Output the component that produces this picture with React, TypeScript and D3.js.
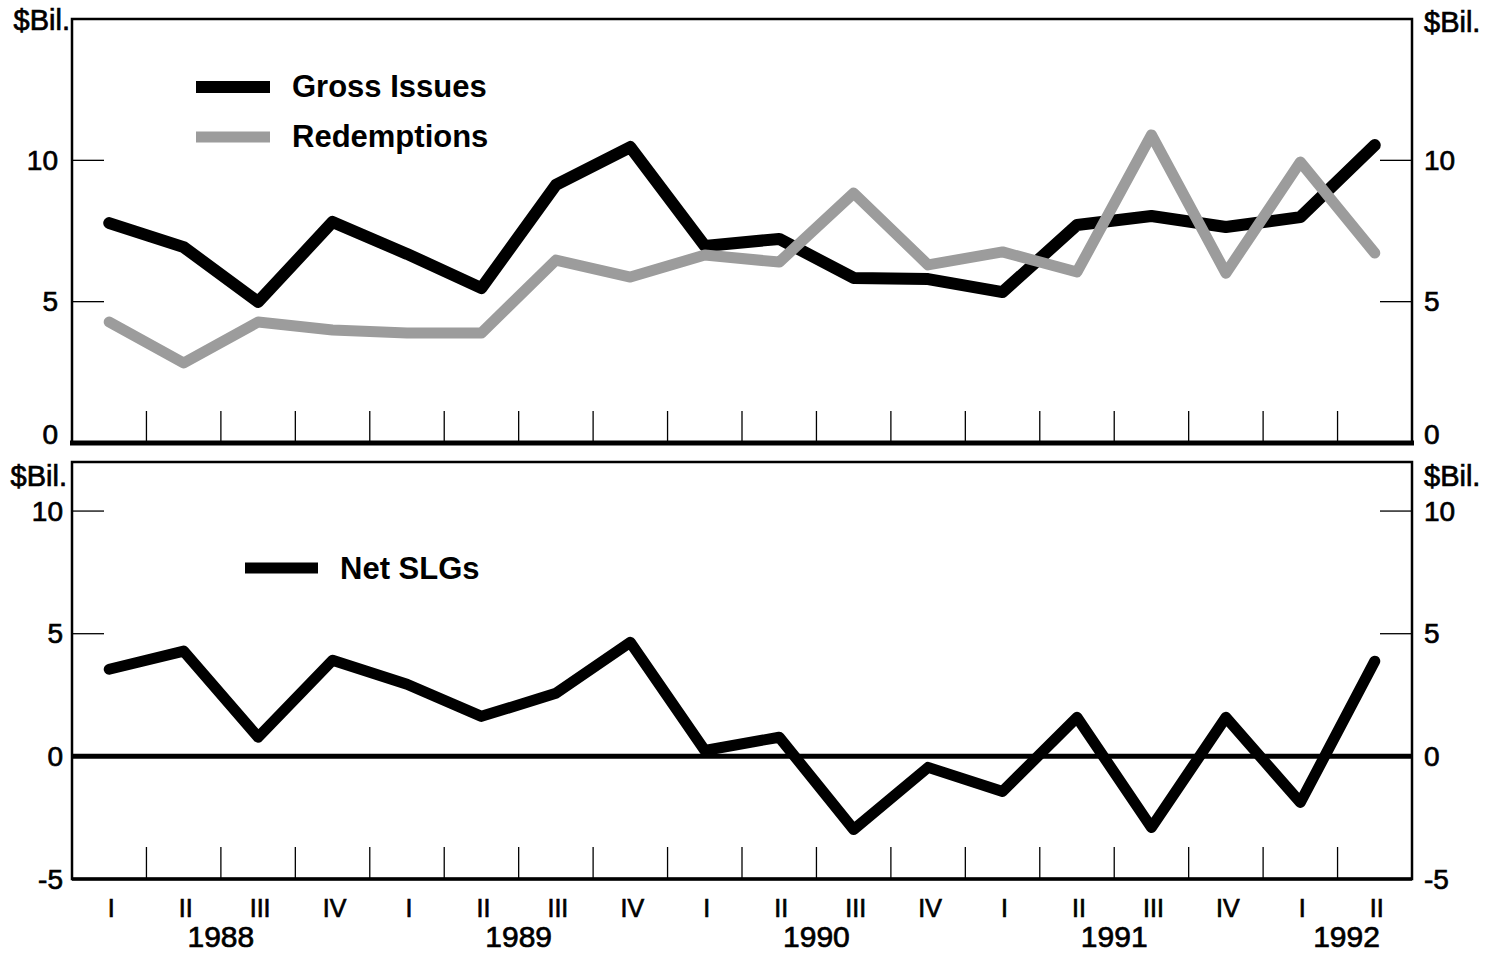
import React from "react";
import * as d3 from "d3";

const quarters = ["I", "II", "III", "IV", "I", "II", "III", "IV", "I", "II", "III", "IV", "I", "II", "III", "IV", "I", "II"];
const years = [
  { label: "1988", start: 0, count: 4 },
  { label: "1989", start: 4, count: 4 },
  { label: "1990", start: 8, count: 4 },
  { label: "1991", start: 12, count: 4 },
  { label: "1992", start: 16, count: 2 },
];
const grossIssues = [7.78, 6.93, 4.99, 7.82, 6.69, 5.48, 9.13, 10.47, 6.97, 7.22, 5.84, 5.8, 5.34, 7.71, 8.03, 7.64, 7.99, 10.54];
const redemptions = [4.28, 2.83, 4.28, 4.0, 3.89, 3.89, 6.47, 5.87, 6.65, 6.4, 8.84, 6.3, 6.76, 6.05, 10.9, 6.01, 9.94, 6.72];
const netSLGs = [3.55, 4.29, 0.78, 3.92, 2.94, 1.63, 2.57, 4.65, 0.24, 0.78, -2.98, -0.45, -1.43, 1.59, -2.9, 1.59, -1.88, 3.88];
const topTicks = [0, 5, 10];
const bottomTicks = [-5, 0, 5, 10];
const topDomain = [0, 15];
const bottomDomain = [-5, 12];
const unitLabel = "$Bil.";

const FONT = "'Liberation Sans', Arial, Helvetica, sans-serif";
const GRAY = "#9c9c9c";

export default function App() {
  const W = 1496, H = 956;
  const left = 72, right = 1412;
  const x = d3.scaleLinear().domain([0, quarters.length]).range([left, right]);
  const yT = d3.scaleLinear().domain(topDomain).range([443, 19]);
  const yB = d3.scaleLinear().domain(bottomDomain).range([879, 462]);
  const px = (i: number) => x(i + 0.5);

  const lineT = d3.line<number>().x((_, i) => px(i)).y((d) => yT(d));
  const lineB = d3.line<number>().x((_, i) => px(i)).y((d) => yB(d));

  const boundaries = d3.range(1, quarters.length);
  const tickLen = 32;
  const txt = { stroke: "#000", strokeWidth: 0.7 } as const;

  return (
    <svg width={W} height={H} style={{ position: "absolute", left: 0, top: 0, background: "#fff" }} fontFamily={FONT}>
      <rect x={0} y={0} width={W} height={H} fill="#fff" />

      {/* ---------- Top panel ---------- */}
      <rect x={left} y={yT(topDomain[1])} width={right - left} height={yT(0) - yT(topDomain[1])} fill="none" stroke="#000" strokeWidth={2.5} />
      <line x1={left - 2} x2={right + 2} y1={yT(0)} y2={yT(0)} stroke="#000" strokeWidth={5} />
      {boundaries.map((b) => (
        <line key={"tb" + b} x1={x(b)} x2={x(b)} y1={yT(0)} y2={yT(0) - tickLen} stroke="#000" strokeWidth={1.3} />
      ))}
      {topTicks.filter((t) => t !== 0).map((t) => (
        <g key={"tt" + t}>
          <line x1={left} x2={left + tickLen} y1={yT(t)} y2={yT(t)} stroke="#000" strokeWidth={1.3} />
          <line x1={right} x2={right - tickLen} y1={yT(t)} y2={yT(t)} stroke="#000" strokeWidth={1.3} />
        </g>
      ))}
      {topTicks.map((t) => {
        const yy = t === 0 ? yT(t) - 9 : yT(t);
        return (
          <g key={"tl" + t} fontSize={28} {...txt}>
            <text x={58} y={yy} textAnchor="end" dominantBaseline="central">{t}</text>
            <text x={1424} y={yy} textAnchor="start" dominantBaseline="central">{t}</text>
          </g>
        );
      })}
      <g fontSize={29} {...txt}>
        <text x={70} y={30} textAnchor="end">{unitLabel}</text>
        <text x={1424} y={32} textAnchor="start">{unitLabel}</text>
      </g>

      <path d={lineT(grossIssues) || ""} fill="none" stroke="#000" strokeWidth={12} strokeLinejoin="round" strokeLinecap="round" />
      <path d={lineT(redemptions) || ""} fill="none" stroke={GRAY} strokeWidth={11} strokeLinejoin="round" strokeLinecap="round" />

      {/* legend top */}
      <line x1={196} x2={270} y1={87} y2={87} stroke="#000" strokeWidth={12} />
      <text x={292} y={97} fontSize={31} fontWeight="bold">Gross Issues</text>
      <line x1={196} x2={270} y1={137} y2={137} stroke={GRAY} strokeWidth={11} />
      <text x={292} y={147} fontSize={31} fontWeight="bold">Redemptions</text>

      {/* ---------- Bottom panel ---------- */}
      <rect x={left} y={yB(bottomDomain[1])} width={right - left} height={yB(bottomDomain[0]) - yB(bottomDomain[1])} fill="none" stroke="#000" strokeWidth={2.5} />
      <line x1={left} x2={right} y1={yB(bottomDomain[0])} y2={yB(bottomDomain[0])} stroke="#000" strokeWidth={3.5} />
      <line x1={left} x2={right} y1={yB(0)} y2={yB(0)} stroke="#000" strokeWidth={5} />
      {boundaries.map((b) => (
        <line key={"bb" + b} x1={x(b)} x2={x(b)} y1={yB(bottomDomain[0])} y2={yB(bottomDomain[0]) - tickLen} stroke="#000" strokeWidth={1.3} />
      ))}
      {bottomTicks.filter((t) => t > 0).map((t) => (
        <g key={"bt" + t}>
          <line x1={left} x2={left + tickLen} y1={yB(t)} y2={yB(t)} stroke="#000" strokeWidth={1.3} />
          <line x1={right} x2={right - tickLen} y1={yB(t)} y2={yB(t)} stroke="#000" strokeWidth={1.3} />
        </g>
      ))}
      {bottomTicks.map((t) => (
        <g key={"bl" + t} fontSize={28} {...txt}>
          <text x={63} y={yB(t)} textAnchor="end" dominantBaseline="central">{t}</text>
          <text x={1424} y={yB(t)} textAnchor="start" dominantBaseline="central">{t}</text>
        </g>
      ))}
      <g fontSize={29} {...txt}>
        <text x={67} y={486} textAnchor="end">{unitLabel}</text>
        <text x={1424} y={486} textAnchor="start">{unitLabel}</text>
      </g>

      <path d={lineB(netSLGs) || ""} fill="none" stroke="#000" strokeWidth={11} strokeLinejoin="round" strokeLinecap="round" />

      {/* legend bottom */}
      <line x1={245} x2={318} y1={568} y2={568} stroke="#000" strokeWidth={11} />
      <text x={340} y={579} fontSize={31} fontWeight="bold">Net SLGs</text>

      {/* x-axis labels */}
      <g {...txt}>
        {quarters.map((q, i) => (
          <text key={"q" + i} x={px(i) + 2} y={917} textAnchor="middle" fontSize={25}>{q}</text>
        ))}
        {years.map((yr, i) => {
          const cx = (px(yr.start) + px(yr.start + yr.count - 1)) / 2 + (yr.count < 4 ? 9 : 0);
          return (
            <text key={"y" + i} x={cx} y={947} textAnchor="middle" fontSize={30}>{yr.label}</text>
          );
        })}
      </g>
    </svg>
  );
}
